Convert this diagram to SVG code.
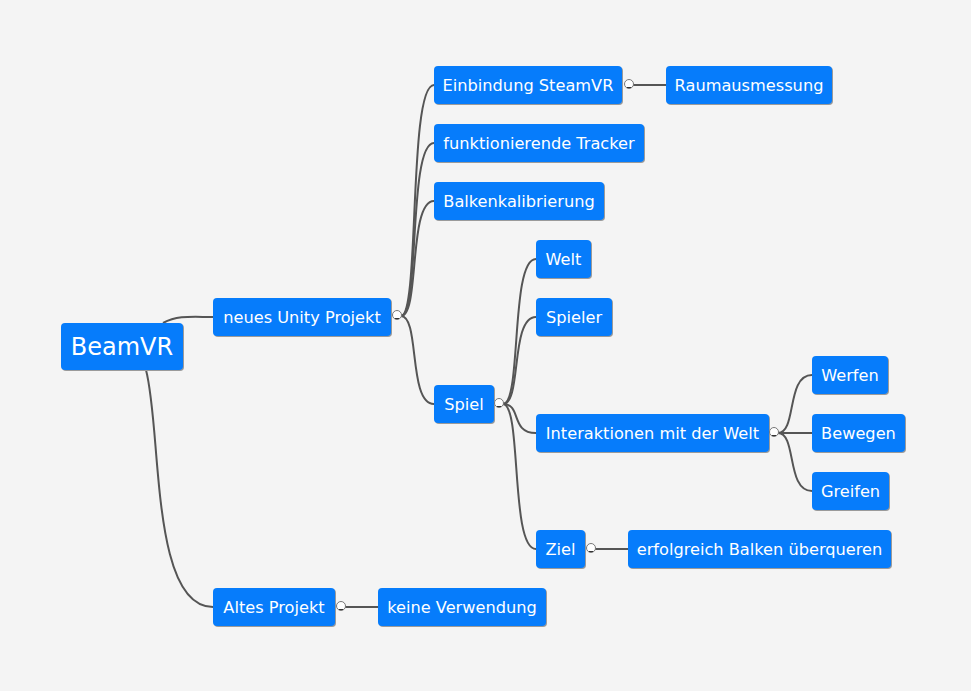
<svg xmlns="http://www.w3.org/2000/svg" width="971" height="691" viewBox="0 0 971 691">
<style>
.n rect.b{fill:#067cfb}
.n rect.s{fill:#9a9a9a}
.n text{fill:#fff;font-family:"DejaVu Sans",Verdana,sans-serif;font-size:16.2px;text-anchor:middle}
.c path{fill:none;stroke:#555;stroke-width:2}
.t circle{fill:#fff;stroke:#777;stroke-width:1}
.t path{stroke:#333;stroke-width:1}
</style>
<rect width="971" height="691" fill="#f4f4f4"/>
<g class="c">
<path d="M163,323 C178,315 192,317 213,317"/>
<path d="M146,370 C162,430 150,607 213,607"/>
<path d="M401,316 C420,316 408,85 434,85"/>
<path d="M401,316 C420,316 408,143 434,143"/>
<path d="M401,316 C420,316 408,201 434,201"/>
<path d="M401,316 C420,316 408,404 434,404"/>
<path d="M633,85 L666,85"/>
<path d="M503,404 C522,404 510,259 536,259"/>
<path d="M503,404 C522,404 510,317 536,317"/>
<path d="M503,404 C522,404 510,433 536,433"/>
<path d="M503,404 C522,404 510,549 536,549"/>
<path d="M778,433 C797,433 786,375 812,375"/>
<path d="M778,433 L812,433"/>
<path d="M778,433 C797,433 786,491 812,491"/>
<path d="M595,549 L628,549"/>
<path d="M345,607 L378,607"/>
</g>
<g class="n" id="n-beamvr"><rect class="s" x="62" y="324" width="122" height="47" rx="4"/><rect class="b" x="61" y="323" width="122" height="47" rx="4"/><text x="122" y="355" style="font-size:24px">BeamVR</text></g>
<g class="n" id="n-unity"><rect class="s" x="214" y="299" width="178" height="38" rx="4"/><rect class="b" x="213" y="298" width="178" height="38" rx="4"/><text x="302" y="323">neues Unity Projekt</text></g>
<g class="n" id="n-steamvr"><rect class="s" x="435" y="67" width="188" height="38" rx="4"/><rect class="b" x="434" y="66" width="188" height="38" rx="4"/><text x="528" y="91">Einbindung SteamVR</text></g>
<g class="n" id="n-raum"><rect class="s" x="667" y="67" width="166" height="38" rx="4"/><rect class="b" x="666" y="66" width="166" height="38" rx="4"/><text x="749" y="91">Raumausmessung</text></g>
<g class="n" id="n-tracker"><rect class="s" x="435" y="125" width="210" height="38" rx="4"/><rect class="b" x="434" y="124" width="210" height="38" rx="4"/><text x="539" y="149">funktionierende Tracker</text></g>
<g class="n" id="n-balken"><rect class="s" x="435" y="183" width="170" height="38" rx="4"/><rect class="b" x="434" y="182" width="170" height="38" rx="4"/><text x="519" y="207">Balkenkalibrierung</text></g>
<g class="n" id="n-spiel"><rect class="s" x="435" y="386" width="60" height="38" rx="4"/><rect class="b" x="434" y="385" width="60" height="38" rx="4"/><text x="464" y="410">Spiel</text></g>
<g class="n" id="n-welt"><rect class="s" x="537" y="241" width="55" height="38" rx="4"/><rect class="b" x="536" y="240" width="55" height="38" rx="4"/><text x="563.5" y="265">Welt</text></g>
<g class="n" id="n-spieler"><rect class="s" x="537" y="299" width="76" height="38" rx="4"/><rect class="b" x="536" y="298" width="76" height="38" rx="4"/><text x="574" y="323">Spieler</text></g>
<g class="n" id="n-inter"><rect class="s" x="537" y="415" width="233" height="38" rx="4"/><rect class="b" x="536" y="414" width="233" height="38" rx="4"/><text x="652.5" y="439">Interaktionen mit der Welt</text></g>
<g class="n" id="n-werfen"><rect class="s" x="813" y="357" width="76" height="38" rx="4"/><rect class="b" x="812" y="356" width="76" height="38" rx="4"/><text x="850" y="381">Werfen</text></g>
<g class="n" id="n-bewegen"><rect class="s" x="813" y="415" width="93" height="38" rx="4"/><rect class="b" x="812" y="414" width="93" height="38" rx="4"/><text x="858.5" y="439">Bewegen</text></g>
<g class="n" id="n-greifen"><rect class="s" x="813" y="473" width="77" height="38" rx="4"/><rect class="b" x="812" y="472" width="77" height="38" rx="4"/><text x="850.5" y="497">Greifen</text></g>
<g class="n" id="n-ziel"><rect class="s" x="537" y="531" width="49" height="38" rx="4"/><rect class="b" x="536" y="530" width="49" height="38" rx="4"/><text x="560.5" y="555">Ziel</text></g>
<g class="n" id="n-erfolg"><rect class="s" x="629" y="531" width="263" height="38" rx="4"/><rect class="b" x="628" y="530" width="263" height="38" rx="4"/><text x="759.5" y="555">erfolgreich Balken überqueren</text></g>
<g class="n" id="n-altes"><rect class="s" x="214" y="589" width="122" height="38" rx="4"/><rect class="b" x="213" y="588" width="122" height="38" rx="4"/><text x="274" y="613">Altes Projekt</text></g>
<g class="n" id="n-keine"><rect class="s" x="379" y="589" width="168" height="38" rx="4"/><rect class="b" x="378" y="588" width="168" height="38" rx="4"/><text x="462" y="613">keine Verwendung</text></g>
<g class="t" id="toggles">
<circle cx="397" cy="315" r="4.5"/><path d="M395,318.5 H399"/>
<circle cx="629" cy="84" r="4.5"/><path d="M627,87.5 H631"/>
<circle cx="499" cy="403" r="4.5"/><path d="M497,406.5 H501"/>
<circle cx="774" cy="432" r="4.5"/><path d="M772,435.5 H776"/>
<circle cx="591" cy="548" r="4.5"/><path d="M589,551.5 H593"/>
<circle cx="341" cy="606" r="4.5"/><path d="M339,609.5 H343"/>
</g>
</svg>
